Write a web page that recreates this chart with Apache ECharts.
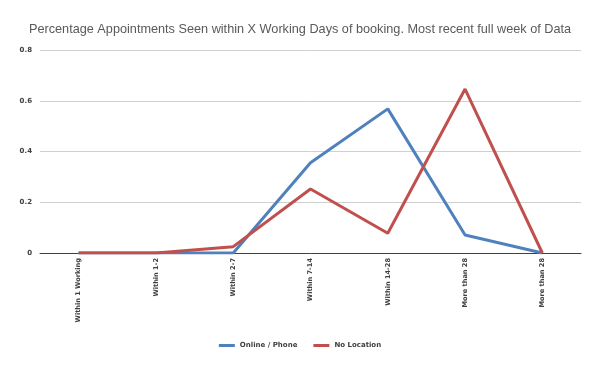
<!DOCTYPE html>
<html><head><meta charset="utf-8">
<script src="https://cdn.jsdelivr.net/npm/echarts@6/dist/echarts.min.js"></script>
<style>html,body{margin:0;padding:0;background:#fff}#c{width:600px;height:371px}</style>
</head><body><div id="c"></div>
<script>
const categories = ["Within 1 Working","Within 1-2","Within 2-7","Within 7-14","Within 14-28","More than 28","More than 28"];
const onlinePhone = [0, 0, 0, 0.356, 0.568, 0.071, 0];
const noLocation = [0, 0, 0.025, 0.252, 0.078, 0.646, 0];
const yTicks = [0, 0.2, 0.4, 0.6, 0.8];
const titleText = "Percentage Appointments Seen within X Working Days of booking. Most recent full week of Data";

const chart = echarts.init(document.getElementById('c'));
chart.setOption({
  animation: false,
  title: {text: titleText, left: 'center', top: 18,
    textStyle: {fontFamily: 'Liberation Sans', fontSize: 12.7, fontWeight: 'normal', color: '#595959'}},
  grid: {left: 40, right: 19, top: 50, bottom: 118},
  legend: {bottom: 17, left: 'center', itemWidth: 16, itemHeight: 3, itemGap: 16,
    icon: 'rect',
    textStyle: {fontFamily: 'DejaVu Sans', fontSize: 7, fontWeight: 'bold', color: '#404040'},
    data: ['Online / Phone', 'No Location']},
  xAxis: {type: 'category', data: categories, boundaryGap: true,
    axisLine: {lineStyle: {color: '#404040', width: 1}},
    axisTick: {show: false},
    axisLabel: {rotate: 90, interval: 0, fontFamily: 'DejaVu Sans', fontSize: 6.6, fontWeight: 'bold', color: '#404040', margin: 5}},
  yAxis: {type: 'value', min: 0, max: 0.8, interval: 0.2,
    axisLine: {show: false}, axisTick: {show: false},
    splitLine: {lineStyle: {color: '#d0d0d0'}},
    axisLabel: {fontFamily: 'DejaVu Sans', fontSize: 7, fontWeight: 'bold', color: '#404040', margin: 8,
      formatter: v => { const t = yTicks.find(x => Math.abs(x - v) < 1e-9); return t === 0 ? '0' : String(t); }}},
  series: [
    {name: 'Online / Phone', type: 'line', data: onlinePhone, symbol: 'none',
      lineStyle: {color: '#4f81bd', width: 3}, itemStyle: {color: '#4f81bd'}},
    {name: 'No Location', type: 'line', data: noLocation, symbol: 'none',
      lineStyle: {color: '#c0504d', width: 3}, itemStyle: {color: '#c0504d'}}
  ]
});
</script></body></html>
